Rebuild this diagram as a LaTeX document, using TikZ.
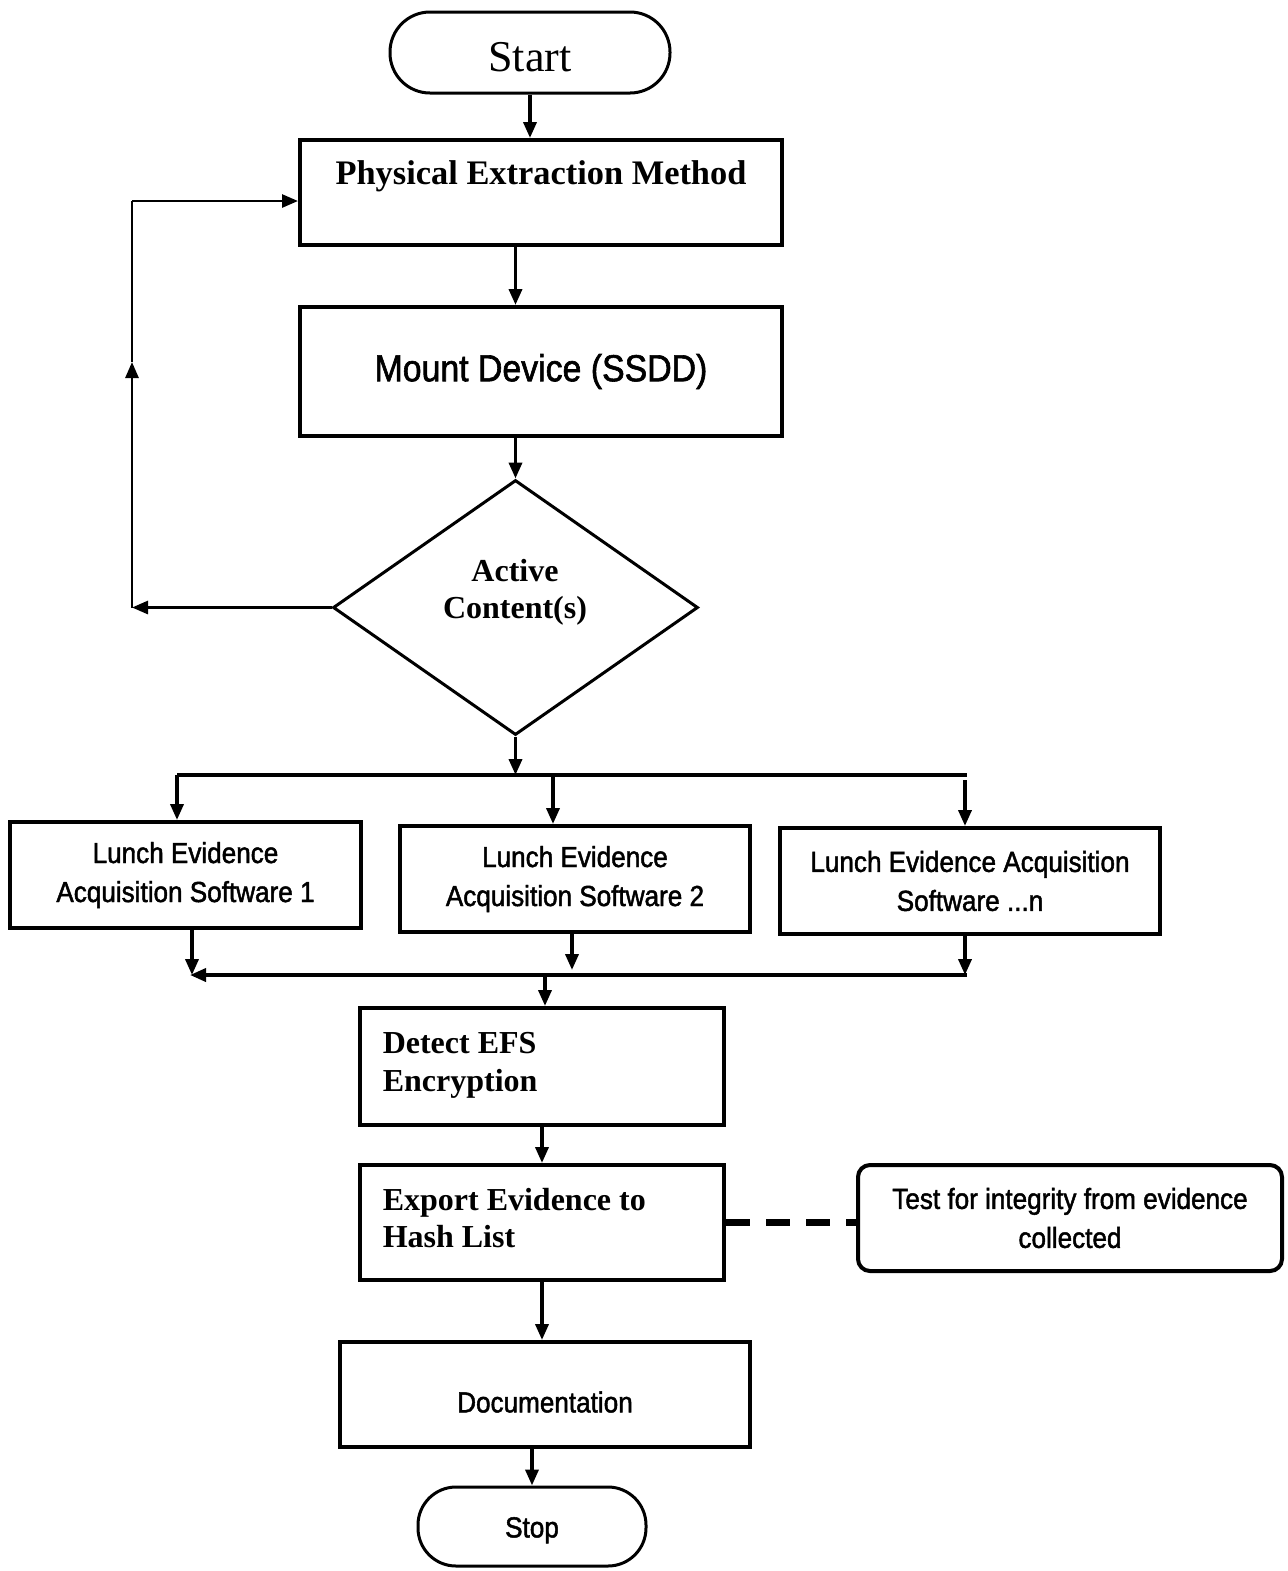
\documentclass[tikz,border=0pt]{standalone}
\usepackage{fontspec}
\setmainfont{Liberation Serif}
\newfontfamily\condsans[FakeStretch=0.9,FakeBold=1.6]{Liberation Sans}
\usetikzlibrary{arrows.meta,shapes.geometric}

\tikzset{every picture/.style={line width=0.75pt}}
\tikzset{
  procbox/.style={draw, rectangle, line width=2pt, inner sep=0pt},
  termbox/.style={draw, rectangle, line width=1.5pt, inner sep=0pt},
  serifbold/.style={font=\bfseries\fontsize{16}{18.7}\selectfont, inner sep=0pt},
  sanstext/.style={font=\condsans\fontsize{14.5}{19.5}\selectfont, align=center},
  arr/.style={line width=1.8pt, -{Triangle[length=8pt,width=6.5pt]}},
  plain/.style={line width=1.8pt}
}

\begin{document}
\begin{tikzpicture}[x=0.5pt,y=0.5pt,yscale=-1,xscale=1]
\useasboundingbox (0,0) rectangle (1287,1571);

%Shape: Terminal
\node [termbox, rounded corners=20pt, minimum width=140pt, minimum height=40.5pt,
  font=\fontsize{22}{26}\selectfont, text height=18.6pt, text depth=0pt] (start) at (530,52.5) {Start};
%Shape: Rectangle
\node [procbox, minimum width=241pt, minimum height=52.5pt] (phys) at (541,192.5) {};
% Text Node
\node [serifbold, font=\bfseries\fontsize{17.2}{20}\selectfont, anchor=base] (phys-txt) at (541,184) {Physical Extraction Method};
%Shape: Rectangle
\node [procbox, minimum width=241pt, minimum height=64.5pt, sanstext,
  font=\condsans\fontsize{18.8}{22}\selectfont] (mount) at (541,371.5) {Mount Device (SSDD)};
%Shape: Diamond
\node [draw, diamond, line width=1.5pt, inner sep=0pt, minimum width=182.5pt,
  minimum height=127.5pt] (dec) at (515.5,607.5) {};
% Text Node
\node [serifbold, align=center, anchor=north] (dec-txt) at (515,558.5) {Active\\Content(s)};

%Shape: Rectangle
\node [procbox, minimum width=175.5pt, minimum height=53pt, sanstext] (soft1) at (185.5,875) {Lunch Evidence\\Acquisition Software 1};
\node [procbox, minimum width=175pt, minimum height=53pt, sanstext] (soft2) at (575,879) {Lunch Evidence\\Acquisition Software 2};
\node [procbox, minimum width=190pt, minimum height=53pt, sanstext] (soft3) at (970,881) {Lunch Evidence Acquisition\\Software ...n};

%Shape: Rectangle
\node [procbox, minimum width=182pt, minimum height=58.5pt] (detect) at (542,1066.5) {};
% Text Node
\node [serifbold, align=left, anchor=north west] (detect-txt) at (382,1032) {Detect EFS\\Encryption};
%Shape: Rectangle
\node [procbox, minimum width=182pt, minimum height=57.5pt] (export) at (542,1222.5) {};
% Text Node
\node [serifbold, font=\bfseries\fontsize{16}{18.2}\selectfont, align=left, anchor=north west] (export-txt) at (382,1188) {Export Evidence to\\Hash List};
%Shape: Rounded Rect
\node [procbox, rounded corners=6pt, minimum width=212pt, minimum height=53pt, sanstext] (test) at (1070,1218) {Test for integrity from evidence\\collected};
%Shape: Rectangle
\node [procbox, minimum width=205pt, minimum height=52.5pt, sanstext, text height=17.9pt, text depth=0pt] (doc) at (545,1394.5) {Documentation};
%Shape: Terminal
\node [termbox, rounded corners=19pt, minimum width=114pt, minimum height=39.5pt, sanstext, text height=10.9pt, text depth=0pt] (stop) at (532,1526.5) {Stop};

% branch and join points
\coordinate (split) at (515.5,775);
\coordinate (b1) at (177,775);
\coordinate (b2) at (553,775);
\coordinate (b3) at (965,780);
\coordinate (bR) at (967,775);
\coordinate (j1) at (192,975);
\coordinate (j2) at (572,970);
\coordinate (j3) at (965,975);
\coordinate (j4) at (545,975);
\coordinate (m1) at (190,975);
\coordinate (mR) at (967,975);
\coordinate (fl1) at (132,607.5);
\coordinate (fl2) at (132,362);
\coordinate (fl3) at (132,201);

%Straight Lines
\draw [arr] (start.south) -- (start.south |- phys.north);
\draw [arr] (dec.north |- phys.south) -- (dec.north |- mount.north);
\draw [arr] (dec.north |- mount.south) -- (dec.north);
\draw [arr] (dec.south) -- (split);
\draw [plain] (b1) -- (bR);
\draw [arr] (b1) -- (b1 |- soft1.north);
\draw [arr] (b2) -- (b2 |- soft2.north);
\draw [arr] (b3) -- (b3 |- soft3.north);
\draw [arr] (j1 |- soft1.south) -- (j1);
\draw [arr] (j2 |- soft2.south) -- (j2);
\draw [arr] (j3 |- soft3.south) -- (j3);
\draw [arr] (mR) -- (m1);
\draw [arr] (j4) -- (j4 |- detect.north);
\draw [arr] (detect.south) -- (export.north);
\draw [arr] (export.south) -- (export.south |- doc.north);
\draw [arr] (stop.north |- doc.south) -- (stop.north);
\draw [line width=3.5pt, dash pattern=on 12pt off 8pt] (export.east) -- (export.east -| test.west);

%Feedback loop
\draw [arr, line width=1.4pt] (dec.west) -- (fl1);
\draw [arr, line width=1.4pt] (fl1) -- (fl2);
\draw [line width=1.4pt] (fl2) -- (fl3);
\draw [arr, line width=1.4pt] (fl3) -- (fl3 -| phys.west);

\end{tikzpicture}
\end{document}
